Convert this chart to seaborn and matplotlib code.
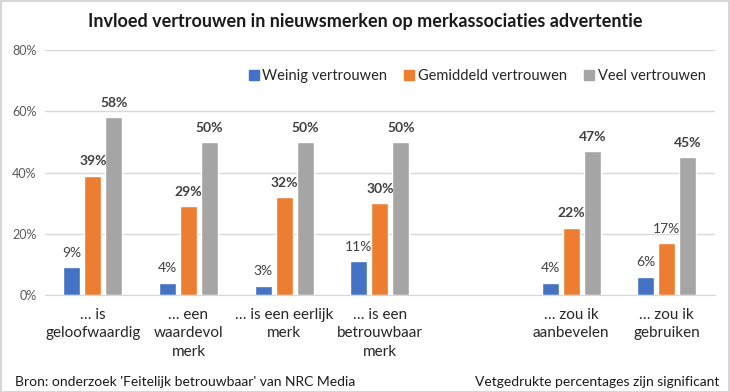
import pandas as pd
import matplotlib.pyplot as plt
import seaborn as sns
from matplotlib.lines import Line2D
from matplotlib.patches import Rectangle

# data
items = ['… is\ngeloofwaardig', '… een\nwaardevol\nmerk', '… is een eerlijk\nmerk',
         '… is een\nbetrouwbaar\nmerk', '… zou ik\naanbevelen', '… zou ik\ngebruiken']
series = ['Weinig vertrouwen', 'Gemiddeld vertrouwen', 'Veel vertrouwen']
weinig = [9, 4, 3, 11, 4, 6]
gemiddeld = [39, 29, 32, 30, 22, 17]
veel = [58, 50, 50, 50, 47, 45]
# which labels are printed bold (significant)
bold_weinig = [False, False, False, False, False, False]
bold_gemiddeld = [True, True, True, True, True, False]
bold_veel = [True, True, True, True, True, True]
colors = ['#4472C4', '#ED7D31', '#A5A5A5']

# an empty slot separates the two groups of statements
order = items[:4] + [''] + items[4:]

rows = []
for name, vals, bolds in zip(series, [weinig, gemiddeld, veel], [bold_weinig, bold_gemiddeld, bold_veel]):
    for item, v, b in zip(items, vals, bolds):
        rows.append({'item': item, 'series': name, 'value': v / 100, 'bold': b})
df = pd.DataFrame(rows)

sns.set_style('white')
plt.rcParams['font.family'] = ['Lato', 'DejaVu Sans']

fig = plt.figure(figsize=(7.3, 3.92), dpi=100)
ax = fig.add_axes([0.0616, 0.2474, 0.9174, 0.625])

sns.barplot(data=df, x='item', y='value', hue='series', order=order, hue_order=series,
            palette=colors, width=0.66, gap=0.19, ax=ax, legend=False, saturation=1)

ax.set_ylim(0, 0.8)
ax.set_yticks([0, 0.2, 0.4, 0.6, 0.8])
ax.set_yticklabels(['0%', '20%', '40%', '60%', '80%'], color='#595959', fontsize=9)
ax.yaxis.grid(True, color='#D9D9D9', linewidth=1)
ax.set_axisbelow(True)
for s in ['top', 'right', 'left']:
    ax.spines[s].set_visible(False)
ax.spines['bottom'].set_color('#D9D9D9')
ax.tick_params(axis='both', length=0)
ax.tick_params(axis='x', pad=9, labelsize=11)
ax.tick_params(axis='y', pad=6)
for lbl in ax.get_xticklabels():
    lbl.set_linespacing(1.45)
ax.set_xlabel('')
ax.set_ylabel('')

# value labels
for container, name in zip(ax.containers, series):
    sub = df[df['series'] == name]
    for bar in container:
        h = bar.get_height()
        if pd.isna(h):
            continue
        idx = int(round(bar.get_x() + bar.get_width() / 2))
        item = order[idx]
        b = sub.loc[sub['item'] == item, 'bold'].iloc[0]
        ax.annotate(f'{h * 100:.0f}%', (bar.get_x() + bar.get_width() / 2, h),
                    xytext=(0, 6), textcoords='offset points', ha='center', va='bottom',
                    fontsize=10, color='#404040', fontweight='bold' if b else 'normal')

fig.text(0.5, 0.945, 'Invloed vertrouwen in nieuwsmerken op merkassociaties advertentie',
         ha='center', va='center', fontsize=13, fontweight='bold', color='#1a1a1a')

handles = [Line2D([], [], marker='s', linestyle='', markersize=7, color=c) for c in colors]
fig.legend(handles, series, loc='center', bbox_to_anchor=(0.652, 0.806), ncol=3,
           frameon=False, fontsize=10.5, handletextpad=0.1, columnspacing=1.0,
           handlelength=1)

fig.text(0.02, 0.01, "Bron: onderzoek 'Feitelijk betrouwbaar' van NRC Media",
         ha='left', va='bottom', fontsize=10, color='#1a1a1a')
fig.text(0.985, 0.01, 'Vetgedrukte percentages zijn significant',
         ha='right', va='bottom', fontsize=10, color='#1a1a1a')

fig.patches.append(Rectangle((0.001, 0.001), 0.997, 0.997, transform=fig.transFigure,
                             fill=False, edgecolor='#D0D0D0', linewidth=1.2))

fig.savefig('out.png', dpi=100)
